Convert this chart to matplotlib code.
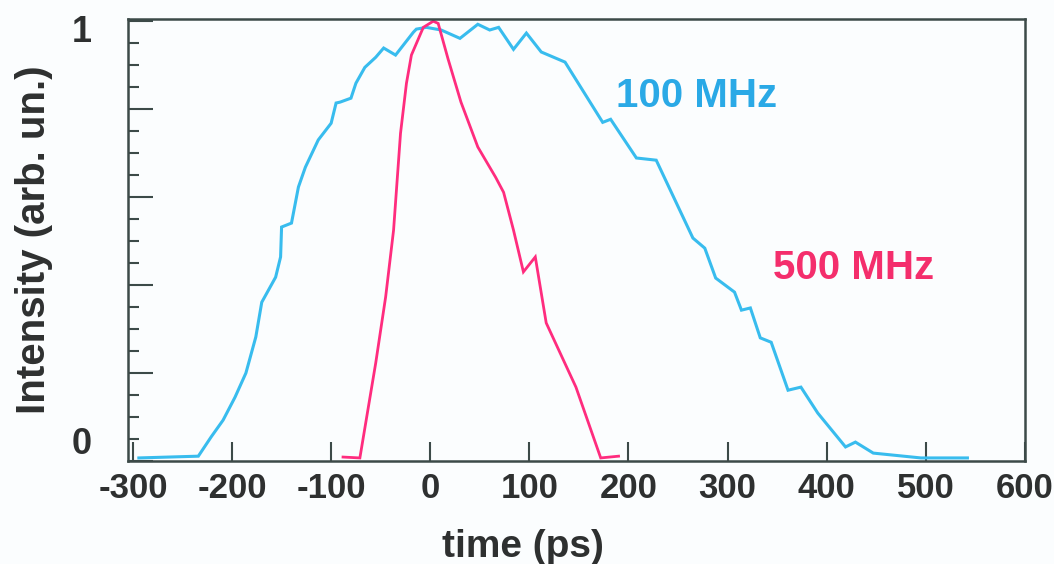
import matplotlib
matplotlib.use('Agg')

import numpy as np
import matplotlib.pyplot as plt
import matplotlib.transforms as mtransforms
from matplotlib.ticker import MultipleLocator, FixedLocator, NullFormatter

# pulse profile at 100 MHz (time in ps, normalized intensity)
t_100 = [-294, -234, -221, -209, -197, -186, -176, -170, -156, -151, -150,
         -140, -133, -126, -113, -100, -95, -91, -80, -75, -66, -55, -47,
         -35, -17, -14, -4, 1, 11, 30, 48, 60, 69, 84, 97, 112, 136, 174,
         182, 208, 228, 265, 277, 288, 307, 314, 323, 333, 344, 361, 374,
         391, 419, 429, 447, 495, 542]
i_100 = [0.007, 0.011, 0.055, 0.093, 0.145, 0.200, 0.282, 0.361, 0.418,
         0.464, 0.532, 0.541, 0.623, 0.668, 0.730, 0.768, 0.814, 0.816,
         0.825, 0.859, 0.895, 0.918, 0.939, 0.923, 0.975, 0.982, 0.986,
         0.984, 0.980, 0.961, 0.993, 0.980, 0.986, 0.936, 0.973, 0.930,
         0.907, 0.770, 0.777, 0.689, 0.684, 0.507, 0.484, 0.416, 0.384,
         0.343, 0.348, 0.280, 0.270, 0.161, 0.168, 0.109, 0.032, 0.043,
         0.018, 0.007, 0.007]

# pulse profile at 500 MHz
t_500 = [-88, -71, -55, -45, -37, -30, -24, -19, -7, 3, 8, 18, 31, 48, 66,
         74, 84, 94, 106, 117, 147, 172, 190]
i_500 = [0.009, 0.007, 0.223, 0.373, 0.525, 0.745, 0.859, 0.923, 0.986,
         1.000, 0.995, 0.914, 0.816, 0.714, 0.645, 0.611, 0.525, 0.430,
         0.464, 0.314, 0.168, 0.007, 0.011]

x_ticks = [-300, -200, -100, 0, 100, 200, 300, 400, 500, 600]
y_major = [0, 0.2, 0.4, 0.6, 0.8, 1.0]
y_labels = {0: '0', 1: '1'}

blue = '#38bcee'
pink = '#ff2c7e'
ink = '#2e3030'
axis_col = '#3c4a48'

plt.rcParams['font.family'] = ['Liberation Sans', 'DejaVu Sans']
plt.rcParams['font.weight'] = 'bold'

fig = plt.figure(figsize=(10.54, 5.64), dpi=100)
fig.patch.set_facecolor('#fbfdfe')
ax = fig.add_axes([0.1214, 0.1826, 0.851, 0.7837])
ax.set_facecolor('#fbfdfe')

ax.plot(t_100, i_100, color=blue, lw=2.2, solid_joinstyle='miter')
ax.plot(t_500, i_500, color=pink, lw=2.0, solid_joinstyle='miter')

ax.set_xlim(-305, 600)
ax.set_ylim(0.0, 1.005)

ax.xaxis.set_major_locator(FixedLocator(x_ticks))
ax.set_xticklabels([str(v) for v in x_ticks])
ax.yaxis.set_major_locator(FixedLocator(y_major))
ax.yaxis.set_major_formatter(NullFormatter())
ax.yaxis.set_minor_locator(MultipleLocator(0.05))

ax.tick_params(axis='x', direction='in', length=14, width=1.5,
               colors=axis_col, labelcolor=ink, labelsize=25, pad=8)
ax.tick_params(axis='y', which='major', direction='in', length=18,
               width=1.5, colors=axis_col)
ax.tick_params(axis='y', which='minor', direction='in', length=8,
               width=1.5, colors=axis_col)

for s in ax.spines.values():
    s.set_color(axis_col)
    s.set_linewidth(1.8)

# the two end labels sit a little inside the axis range
ytrans = mtransforms.blended_transform_factory(ax.transAxes, ax.transData)
ax.text(-0.040, 1, y_labels[1], transform=ytrans + mtransforms.ScaledTranslation(
    0, -0.11, fig.dpi_scale_trans), ha='right', va='center', fontsize=26,
    color=ink)
ax.text(-0.040, 0, y_labels[0], transform=ytrans + mtransforms.ScaledTranslation(
    0, 0.17, fig.dpi_scale_trans), ha='right', va='center', fontsize=26,
    color=ink)

ax.set_xlabel('time (ps)', fontsize=28, fontweight='bold', color=ink)
ax.xaxis.set_label_coords(0.44, -0.153)
ax.set_ylabel('Intensity (arb. un.)', fontsize=29, fontweight='bold',
              color=ink)
ax.yaxis.set_label_coords(-0.084, 0.5)

ax.text(187, 0.83, '100 MHz', color='#2aa9e6', fontsize=29,
        va='center', ha='left')
ax.text(346, 0.439, '500 MHz', color='#f42e6c', fontsize=29,
        va='center', ha='left')

fig.savefig('out.png', dpi=100, facecolor=fig.get_facecolor())
